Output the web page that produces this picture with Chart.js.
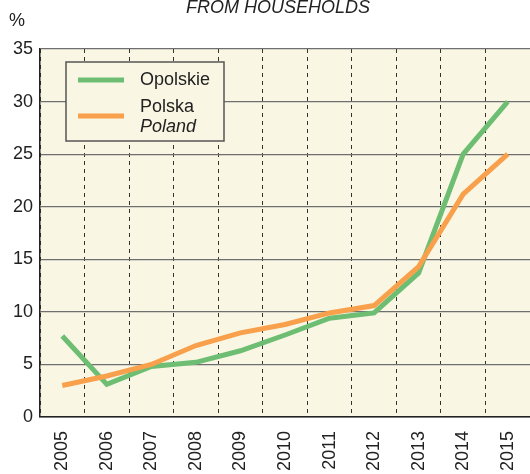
<!DOCTYPE html>
<html>
<head>
<meta charset="utf-8">
<script src="https://cdn.jsdelivr.net/npm/chart.js@4"></script>
<style>
  html, body { margin: 0; padding: 0; background: #fff; }
  #wrap { width: 530px; height: 474px; position: relative; }
</style>
</head>
<body>
<div id="wrap"><canvas id="chart"></canvas></div>
<script>
const years = ['2005', '2006', '2007', '2008', '2009', '2010', '2011', '2012', '2013', '2014', '2015']
const opolskie = [7.7, 3.1, 4.8, 5.2, 6.3, 7.8, 9.4, 9.9, 13.7, 25.0, 30.0]
const polska = [3.0, 3.9, 5.0, 6.8, 8.0, 8.8, 9.9, 10.6, 14.3, 21.2, 25.0]
const yTicks = [0, 5, 10, 15, 20, 25, 30, 35]

const green = '#6dbe73'
const orange = '#f8a04b'
const font = 'Liberation Sans, Arial, sans-serif'

// background of the plot, title, % label and the boxed legend
const decor = {
  id: 'decor',
  beforeDraw(chart) {
    const { ctx, chartArea: a } = chart
    ctx.save()
    ctx.fillStyle = '#f9f6e3'
    ctx.fillRect(a.left, a.top, a.right - a.left, a.bottom - a.top)
    ctx.restore()
  },
  afterDraw(chart) {
    const ctx = chart.ctx
    ctx.save()
    ctx.fillStyle = '#222'
    ctx.textBaseline = 'alphabetic'
    ctx.font = 'italic 18px ' + font
    ctx.textAlign = 'center'
    ctx.fillText('FROM HOUSEHOLDS', 278, 13)
    ctx.font = '18px ' + font
    ctx.textAlign = 'left'
    ctx.fillText('%', 9, 26)

    // legend box
    ctx.fillStyle = '#f9f6e3'
    ctx.fillRect(66, 62, 158, 79)
    ctx.strokeStyle = '#555'
    ctx.lineWidth = 1.5
    ctx.strokeRect(66, 62, 158, 79)
    ctx.lineWidth = 5
    ctx.strokeStyle = green
    ctx.beginPath(); ctx.moveTo(78, 80); ctx.lineTo(124, 80); ctx.stroke()
    ctx.strokeStyle = orange
    ctx.beginPath(); ctx.moveTo(78, 116); ctx.lineTo(124, 116); ctx.stroke()
    ctx.fillStyle = '#222'
    ctx.textBaseline = 'middle'
    ctx.font = '18px ' + font
    ctx.fillText('Opolskie', 140, 80)
    ctx.fillText('Polska', 140, 107)
    ctx.font = 'italic 18px ' + font
    ctx.fillText('Poland', 140, 127)
    ctx.restore()
  }
}

new Chart(document.getElementById('chart'), {
  type: 'line',
  data: {
    labels: years,
    datasets: [
      {
        label: 'Opolskie',
        data: opolskie,
        borderColor: green,
        borderWidth: 5,
        pointRadius: 0,
        tension: 0,
        order: 1,
      },
      {
        label: 'Polska',
        data: polska,
        borderColor: orange,
        borderWidth: 5,
        pointRadius: 0,
        tension: 0,
        order: 0,
      },
    ],
  },
  options: {
    responsive: true,
    maintainAspectRatio: false,
    animation: false,
    layout: { padding: { top: 49, left: 0, right: 0, bottom: 0 } },
    plugins: {
      legend: { display: false },
      tooltip: { enabled: false },
    },
    scales: {
      x: {
        offset: true,
        grid: { offset: true, color: '#333', lineWidth: 1, drawTicks: false },
        border: { display: true, color: '#222', width: 1.5, dash: [4, 4] },
        ticks: {
          color: '#222',
          font: { family: font, size: 18 },
          maxRotation: 90,
          minRotation: 90,
          padding: 14,
          autoSkip: false,
        },
        afterFit(scale) {
          scale.height = 57
          scale.paddingLeft = 0
          scale.paddingRight = 0
        },
      },
      y: {
        min: 0,
        max: 35,
        afterBuildTicks(scale) { scale.ticks = yTicks.map(v => ({ value: v })) },
        grid: { color: '#6f6f6f', lineWidth: 1.2, drawTicks: false },
        border: { display: true, color: '#222', width: 1.5 },
        ticks: {
          color: '#222',
          font: { family: font, size: 18 },
          padding: 7,
        },
        afterFit(scale) {
          scale.width = 40
          scale.paddingTop = 0
          scale.paddingBottom = 0
        },
      },
    },
  },
  plugins: [decor],
})
</script>
</body>
</html>
